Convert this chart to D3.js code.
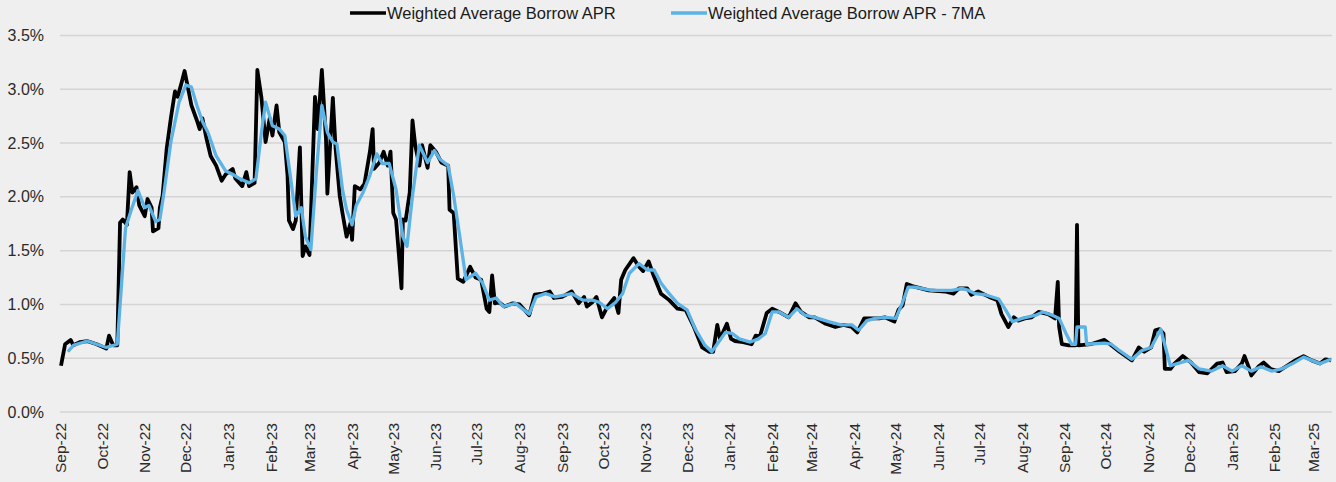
<!DOCTYPE html>
<meta charset="utf-8">
<style>
  body { margin: 0; background: #efefef; }
  svg { display: block; font-family: "Liberation Sans", Arial, sans-serif; }
  .tick-y { font-size: 16px; fill: #2a2a2a; }
  .tick-x { font-size: 15.5px; fill: #2a2a2a; }
  .legend text { font-size: 16.5px; fill: #1a1a1a; }
</style>
<script src="https://d3js.org/d3.v7.min.js"></script>
<svg id="chart" width="1336" height="482"></svg>
<script>

// daily weighted average borrow APR (%)
var aprSeries = [
  ["2022-09-01",0.43],["2022-09-04",0.63],["2022-09-08",0.67],["2022-09-10",0.62],["2022-09-15",0.65],
  ["2022-09-20",0.66],["2022-09-27",0.63],["2022-10-04",0.59],["2022-10-06",0.71],["2022-10-09",0.62],
  ["2022-10-12",0.62],["2022-10-14",1.76],["2022-10-16",1.79],["2022-10-19",1.74],["2022-10-21",2.23],
  ["2022-10-23",2.04],["2022-10-26",2.09],["2022-10-28",1.92],["2022-11-01",1.82],["2022-11-03",1.98],
  ["2022-11-06",1.90],["2022-11-07",1.68],["2022-11-11",1.71],["2022-11-12",1.90],["2022-11-14",2.01],
  ["2022-11-17",2.45],["2022-11-20",2.73],["2022-11-23",2.98],["2022-11-25",2.93],["2022-11-28",3.07],
  ["2022-11-30",3.17],["2022-12-03",2.98],["2022-12-05",2.85],["2022-12-09",2.71],["2022-12-11",2.63],
  ["2022-12-13",2.73],["2022-12-16",2.54],["2022-12-19",2.38],["2022-12-23",2.29],["2022-12-27",2.15],
  ["2022-12-30",2.21],["2023-01-04",2.26],["2023-01-06",2.17],["2023-01-11",2.10],["2023-01-14",2.23],
  ["2023-01-16",2.10],["2023-01-20",2.13],["2023-01-22",3.18],["2023-01-25",2.92],["2023-01-28",2.51],
  ["2023-01-31",2.73],["2023-02-02",2.57],["2023-02-05",2.85],["2023-02-07",2.60],["2023-02-11",2.51],
  ["2023-02-13",2.20],["2023-02-14",1.78],["2023-02-17",1.70],["2023-02-19",1.78],["2023-02-22",2.46],
  ["2023-02-24",1.45],["2023-02-26",1.54],["2023-03-01",1.46],["2023-03-05",2.93],["2023-03-07",2.63],
  ["2023-03-10",3.18],["2023-03-13",2.54],["2023-03-14",2.03],["2023-03-18",2.92],["2023-03-20",2.45],
  ["2023-03-23",2.01],["2023-03-25",1.85],["2023-03-28",1.63],["2023-03-31",1.76],["2023-04-01",1.60],
  ["2023-04-03",2.10],["2023-04-07",2.07],["2023-04-10",2.12],["2023-04-14",2.42],["2023-04-16",2.63],
  ["2023-04-17",2.26],["2023-04-21",2.32],["2023-04-24",2.42],["2023-04-27",2.29],["2023-04-29",2.42],
  ["2023-05-01",1.85],["2023-05-03",1.79],["2023-05-05",1.48],["2023-05-07",1.15],["2023-05-08",1.79],
  ["2023-05-10",1.78],["2023-05-13",2.04],["2023-05-15",2.71],["2023-05-17",2.48],["2023-05-20",2.29],
  ["2023-05-22",2.48],["2023-05-26",2.27],["2023-05-28",2.48],["2023-06-01",2.42],["2023-06-05",2.32],
  ["2023-06-10",2.29],["2023-06-11",1.88],["2023-06-14",1.85],["2023-06-17",1.24],["2023-06-21",1.21],
  ["2023-06-26",1.35],["2023-06-30",1.25],["2023-07-04",1.23],["2023-07-08",0.96],["2023-07-10",0.93],
  ["2023-07-12",1.27],["2023-07-14",1.01],["2023-07-17",1.02],["2023-07-21",0.98],["2023-07-27",1.01],
  ["2023-08-01",1.00],["2023-08-08",0.90],["2023-08-12",1.09],["2023-08-18",1.10],["2023-08-23",1.12],
  ["2023-08-26",1.06],["2023-09-01",1.07],["2023-09-08",1.12],["2023-09-13",1.01],["2023-09-17",1.07],
  ["2023-09-19",0.98],["2023-09-23",1.02],["2023-09-26",1.07],["2023-09-30",0.88],["2023-10-04",0.98],
  ["2023-10-09",1.06],["2023-10-12",0.92],["2023-10-14",1.23],["2023-10-17",1.32],["2023-10-23",1.43],
  ["2023-10-27",1.35],["2023-10-30",1.31],["2023-11-03",1.40],["2023-11-06",1.29],["2023-11-12",1.10],
  ["2023-11-18",1.04],["2023-11-24",0.96],["2023-11-30",0.95],["2023-12-06",0.79],["2023-12-12",0.60],
  ["2023-12-17",0.56],["2023-12-20",0.56],["2023-12-23",0.81],["2023-12-25",0.68],["2023-12-30",0.82],
  ["2024-01-02",0.68],["2024-01-05",0.66],["2024-01-11",0.65],["2024-01-17",0.63],["2024-01-20",0.71],
  ["2024-01-23",0.70],["2024-01-28",0.92],["2024-02-01",0.96],["2024-02-06",0.93],["2024-02-13",0.88],
  ["2024-02-18",1.01],["2024-02-22",0.93],["2024-02-28",0.88],["2024-03-03",0.88],["2024-03-11",0.82],
  ["2024-03-18",0.79],["2024-03-24",0.81],["2024-03-30",0.79],["2024-04-03",0.74],["2024-04-08",0.87],
  ["2024-04-14",0.87],["2024-04-19",0.87],["2024-04-23",0.88],["2024-04-30",0.84],["2024-05-03",0.95],
  ["2024-05-06",0.99],["2024-05-09",1.19],["2024-05-13",1.17],["2024-05-25",1.13],["2024-06-06",1.12],
  ["2024-06-12",1.10],["2024-06-16",1.15],["2024-06-22",1.15],["2024-06-25",1.09],["2024-06-30",1.12],
  ["2024-07-08",1.07],["2024-07-14",1.04],["2024-07-17",0.91],["2024-07-22",0.79],["2024-07-26",0.88],
  ["2024-07-29",0.85],["2024-08-03",0.87],["2024-08-08",0.88],["2024-08-13",0.93],["2024-08-20",0.91],
  ["2024-08-25",0.87],["2024-08-27",1.21],["2024-08-28",0.79],["2024-08-30",0.63],["2024-09-04",0.62],
  ["2024-09-09",0.62],["2024-09-10",1.74],["2024-09-11",0.62],["2024-09-20",0.63],["2024-09-30",0.67],
  ["2024-10-05",0.62],["2024-10-11",0.56],["2024-10-20",0.48],["2024-10-25",0.60],["2024-10-29",0.56],
  ["2024-11-03",0.60],["2024-11-06",0.76],["2024-11-09",0.77],["2024-11-12",0.73],["2024-11-13",0.40],
  ["2024-11-17",0.40],["2024-11-20",0.45],["2024-11-26",0.52],["2024-12-02",0.46],["2024-12-08",0.37],
  ["2024-12-14",0.36],["2024-12-21",0.45],["2024-12-25",0.46],["2024-12-28",0.37],["2025-01-03",0.38],
  ["2025-01-08",0.45],["2025-01-10",0.52],["2025-01-13",0.42],["2025-01-15",0.34],["2025-01-20",0.42],
  ["2025-01-24",0.46],["2025-01-29",0.40],["2025-02-04",0.38],["2025-02-10",0.43],["2025-02-16",0.48],
  ["2025-02-22",0.52],["2025-02-28",0.48],["2025-03-06",0.45],["2025-03-10",0.49],["2025-03-14",0.48]
];

// 7 day moving average (%)
var maSeries = [
  ["2022-09-06",0.56],["2022-09-10",0.62],["2022-09-20",0.66],["2022-10-04",0.60],["2022-10-12",0.63],
  ["2022-10-18",1.71],["2022-10-22",1.87],["2022-10-27",2.06],["2022-11-01",1.90],["2022-11-04",1.92],
  ["2022-11-09",1.77],["2022-11-12",1.79],["2022-11-15",2.04],["2022-11-20",2.51],["2022-11-26",2.88],
  ["2022-12-01",3.04],["2022-12-05",3.02],["2022-12-09",2.85],["2022-12-13",2.70],["2022-12-17",2.60],
  ["2022-12-23",2.38],["2022-12-30",2.24],["2023-01-04",2.21],["2023-01-09",2.17],["2023-01-16",2.13],
  ["2023-01-21",2.17],["2023-01-25",2.60],["2023-01-28",2.88],["2023-02-02",2.66],["2023-02-07",2.63],
  ["2023-02-11",2.57],["2023-02-14",2.29],["2023-02-19",1.82],["2023-02-23",1.90],["2023-02-26",1.63],
  ["2023-03-02",1.51],["2023-03-06",2.23],["2023-03-10",2.85],["2023-03-14",2.60],["2023-03-18",2.51],
  ["2023-03-21",2.49],["2023-03-25",2.07],["2023-03-28",1.88],["2023-04-01",1.74],["2023-04-04",1.92],
  ["2023-04-09",2.04],["2023-04-14",2.20],["2023-04-19",2.40],["2023-04-23",2.31],["2023-04-28",2.31],
  ["2023-05-03",2.07],["2023-05-08",1.63],["2023-05-11",1.54],["2023-05-15",2.01],["2023-05-20",2.48],
  ["2023-05-26",2.32],["2023-05-31",2.43],["2023-06-04",2.35],["2023-06-10",2.29],["2023-06-14",2.01],
  ["2023-06-18",1.67],["2023-06-23",1.23],["2023-06-30",1.29],["2023-07-05",1.20],["2023-07-10",1.04],
  ["2023-07-15",1.06],["2023-07-20",0.98],["2023-07-29",1.01],["2023-08-08",0.91],["2023-08-13",1.07],
  ["2023-08-20",1.10],["2023-08-27",1.07],["2023-09-08",1.10],["2023-09-16",1.04],["2023-09-23",1.04],
  ["2023-09-28",1.02],["2023-10-04",0.96],["2023-10-10",1.02],["2023-10-15",1.10],["2023-10-20",1.29],
  ["2023-10-27",1.38],["2023-11-02",1.32],["2023-11-07",1.32],["2023-11-12",1.20],["2023-11-18",1.10],
  ["2023-11-24",1.01],["2023-12-01",0.95],["2023-12-07",0.77],["2023-12-14",0.62],["2023-12-19",0.56],
  ["2023-12-24",0.65],["2023-12-29",0.74],["2024-01-03",0.73],["2024-01-08",0.68],["2024-01-16",0.65],
  ["2024-01-22",0.68],["2024-01-27",0.73],["2024-02-01",0.93],["2024-02-06",0.93],["2024-02-13",0.88],
  ["2024-02-19",0.96],["2024-02-25",0.90],["2024-03-03",0.88],["2024-03-13",0.84],["2024-03-22",0.81],
  ["2024-03-30",0.81],["2024-04-04",0.76],["2024-04-10",0.85],["2024-04-16",0.87],["2024-04-24",0.88],
  ["2024-05-01",0.87],["2024-05-06",1.02],["2024-05-10",1.16],["2024-05-15",1.16],["2024-05-27",1.13],
  ["2024-06-11",1.13],["2024-06-18",1.15],["2024-06-23",1.13],["2024-06-28",1.10],["2024-07-05",1.09],
  ["2024-07-15",1.05],["2024-07-20",0.95],["2024-07-25",0.84],["2024-08-01",0.87],["2024-08-11",0.90],
  ["2024-08-16",0.93],["2024-08-23",0.90],["2024-08-28",0.87],["2024-09-02",0.73],["2024-09-06",0.63],
  ["2024-09-09",0.63],["2024-09-10",0.79],["2024-09-16",0.79],["2024-09-17",0.63],["2024-09-30",0.64],
  ["2024-10-05",0.63],["2024-10-11",0.57],["2024-10-20",0.49],["2024-10-27",0.57],["2024-11-03",0.60],
  ["2024-11-10",0.77],["2024-11-12",0.67],["2024-11-17",0.43],["2024-11-22",0.45],["2024-11-30",0.48],
  ["2024-12-08",0.40],["2024-12-17",0.38],["2024-12-25",0.43],["2025-01-01",0.38],["2025-01-08",0.43],
  ["2025-01-15",0.38],["2025-01-22",0.42],["2025-01-30",0.38],["2025-02-06",0.40],["2025-02-14",0.45],
  ["2025-02-22",0.51],["2025-02-28",0.48],["2025-03-06",0.45],["2025-03-12",0.48],["2025-03-14",0.49]
];

var yTicks = [0, 0.5, 1.0, 1.5, 2.0, 2.5, 3.0, 3.5];
var seriesNames = ["Weighted Average Borrow APR", "Weighted Average Borrow APR - 7MA"];
var seriesColors = ["#000000", "#5cb3e6"];

var svg = d3.select("#chart");
var parse = d3.timeParse("%Y-%m-%d");

var x = d3.scaleTime()
  .domain([parse("2022-09-01"), parse("2025-03-14")])
  .range([61, 1331]);

var y = d3.scaleLinear()
  .domain([0, 3.5])
  .range([412, 35.5]);

// gridlines + y labels
svg.append("g").selectAll("line")
  .data(yTicks)
  .enter().append("line")
    .attr("x1", 60).attr("x2", 1332)
    .attr("y1", function(d) { return y(d); })
    .attr("y2", function(d) { return y(d); })
    .attr("stroke", "#d4d4d4")
    .attr("stroke-width", 1.5);

svg.append("g").selectAll("text")
  .data(yTicks)
  .enter().append("text")
    .attr("class", "tick-y")
    .attr("x", 44)
    .attr("y", function(d) { return y(d); })
    .attr("dy", "0.35em")
    .attr("text-anchor", "end")
    .text(function(d) { return d.toFixed(1) + "%"; });

// month labels, rotated
var months = d3.timeMonth.range(parse("2022-09-01"), parse("2025-03-02"));
var fmt = d3.timeFormat("%b-%y");

svg.append("g").selectAll("text")
  .data(months)
  .enter().append("text")
    .attr("class", "tick-x")
    .attr("text-anchor", "end")
    .attr("transform", function(d) { return "translate(" + x(d) + ",423) rotate(-90)"; })
    .attr("dy", "0.35em")
    .text(function(d) { return fmt(d); });

// lines
var line = d3.line()
  .x(function(d) { return x(parse(d[0])); })
  .y(function(d) { return y(d[1]); });

svg.append("path")
  .datum(aprSeries)
  .attr("d", line)
  .attr("fill", "none")
  .attr("stroke", seriesColors[0])
  .attr("stroke-width", 3.8)
  .attr("stroke-linejoin", "round");

svg.append("path")
  .datum(maSeries)
  .attr("d", line)
  .attr("fill", "none")
  .attr("stroke", seriesColors[1])
  .attr("stroke-width", 3.3)
  .attr("stroke-linejoin", "round");

// legend
var legend = svg.selectAll("g.legend")
  .data(seriesNames)
  .enter().append("g")
    .attr("class", "legend")
    .attr("transform", function(d, i) { return "translate(" + [350, 671][i] + ",13)"; });

legend.append("line")
  .attr("x1", 0).attr("x2", 36)
  .attr("stroke", function(d, i) { return seriesColors[i]; })
  .attr("stroke-width", 3.5);

legend.append("text")
  .attr("x", 37)
  .attr("dy", "0.35em")
  .text(function(d) { return d; });

</script>
